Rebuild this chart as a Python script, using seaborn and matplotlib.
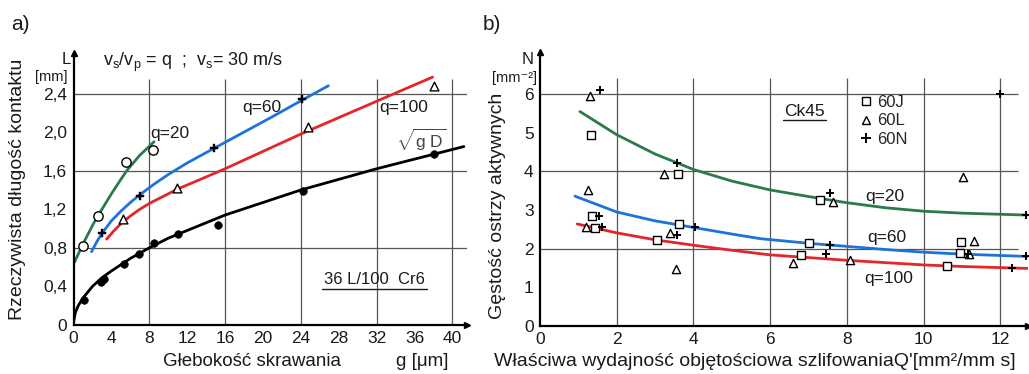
import numpy as np
import pandas as pd
import matplotlib
matplotlib.use("Agg")
import matplotlib.pyplot as plt
from matplotlib.lines import Line2D
import seaborn as sns

# ---------------- Panel a data ----------------
a_xticks = [0, 4, 8, 12, 16, 20, 24, 28, 32, 36, 40]
a_yticks = [0, 0.4, 0.8, 1.2, 1.6, 2.0, 2.4]
a_yticklabels = ["0", "0,4", "0,8", "1,2", "1,6", "2,0", "2,4"]
a_xgrid = [8, 16, 24, 32, 40]
a_ygrid = [0.8, 1.6, 2.4]

# fitted curves
q20_a_x = [0.1, 1.0, 2.1, 3.0, 4.0, 5.0, 5.7, 7.0, 8.5]
q20_a_y = [0.65, 0.84, 1.05, 1.20, 1.36, 1.51, 1.61, 1.76, 1.90]
q60_a_x = [1.9, 2.5, 3.0, 4.0, 5.0, 6.0, 7.0, 8.5, 10.0, 12.0, 14.8, 18.0, 21.0, 24.1, 26.9]
q60_a_y = [0.76, 0.87, 0.95, 1.08, 1.18, 1.27, 1.35, 1.46, 1.56, 1.68, 1.83, 2.00, 2.16, 2.33, 2.48]
q100_a_x = [3.5, 4.2, 5.0, 6.0, 7.0, 8.0, 9.2, 11.0, 13.4, 16.0, 20.0, 24.0, 28.0, 32.0, 36.0, 37.9]
q100_a_y = [0.89, 0.97, 1.05, 1.13, 1.20, 1.26, 1.32, 1.41, 1.51, 1.62, 1.80, 1.98, 2.15, 2.32, 2.49, 2.57]
sq_a_x = [0.02, 0.2, 0.5, 1.0, 2.0, 3.0, 4.0, 6.0, 8.0, 10.0, 12.0, 16.0, 20.0, 24.0, 28.0, 32.0, 36.0, 41.2]
sq_a_y = [0.04, 0.13, 0.20, 0.28, 0.40, 0.49, 0.56, 0.69, 0.80, 0.90, 0.98, 1.14, 1.27, 1.40, 1.51, 1.62, 1.72, 1.85]

# measured points
q20_pts_x = [1.0, 2.6, 5.5, 8.4]
q20_pts_y = [0.82, 1.13, 1.69, 1.81]
q60_pts_x = [3.0, 7.0, 14.8, 24.1]
q60_pts_y = [0.95, 1.34, 1.83, 2.34]
q100_pts_x = [5.2, 10.9, 24.7, 38.0]
q100_pts_y = [1.10, 1.42, 2.05, 2.48]
sq_pts_x = [1.16, 2.85, 3.2, 5.3, 6.9, 8.5, 11.0, 15.2, 24.2, 38.0]
sq_pts_y = [0.26, 0.45, 0.48, 0.63, 0.74, 0.85, 0.94, 1.04, 1.39, 1.77]

# ---------------- Panel b data ----------------
b_xticks = [0, 2, 4, 6, 8, 10, 12]
b_yticks = [0, 1, 2, 3, 4, 5, 6]
b_xgrid = [2, 4, 6, 8, 10, 12]
b_ygrid = [2, 4, 6]

q20_b_x = [1.04, 2.0, 3.0, 3.6, 4.0, 5.0, 6.0, 7.0, 7.56, 8.0, 9.0, 10.0, 11.0, 12.7]
q20_b_y = [5.55, 4.95, 4.45, 4.21, 4.05, 3.75, 3.52, 3.35, 3.26, 3.19, 3.06, 2.97, 2.92, 2.87]
q60_b_x = [0.91, 2.0, 3.0, 4.0, 5.0, 5.74, 7.0, 8.0, 9.0, 10.0, 11.0, 12.7]
q60_b_y = [3.36, 2.95, 2.72, 2.55, 2.38, 2.26, 2.14, 2.06, 1.98, 1.91, 1.86, 1.80]
q100_b_x = [0.97, 2.0, 3.0, 4.0, 5.0, 6.0, 7.0, 8.0, 9.0, 10.0, 11.0, 12.7]
q100_b_y = [2.64, 2.41, 2.23, 2.09, 1.96, 1.84, 1.77, 1.70, 1.64, 1.58, 1.54, 1.49]

j60_x = [1.34, 3.59, 1.35, 1.43, 3.06, 3.63, 7.3, 7.0, 6.8, 10.6, 10.97, 10.95]
j60_y = [4.94, 3.93, 2.84, 2.54, 2.22, 2.63, 3.26, 2.14, 1.84, 1.55, 2.18, 1.88]
l60_x = [1.30, 3.23, 1.26, 11.03, 1.20, 3.39, 3.55, 7.65, 6.59, 8.08, 11.3, 11.17]
l60_y = [5.95, 3.93, 3.53, 3.86, 2.57, 2.41, 1.47, 3.22, 1.62, 1.71, 2.20, 1.86]
n60_x = [1.56, 3.56, 11.99, 1.55, 1.61, 3.58, 4.04, 7.56, 7.56, 7.46, 12.3, 12.67, 12.67, 11.16]
n60_y = [6.10, 4.22, 6.00, 2.84, 2.57, 2.35, 2.55, 3.43, 2.09, 1.86, 1.49, 2.87, 1.81, 1.86]

GREEN = "#2b7a4b"
BLUE = "#1e73d8"
RED = "#e3262b"
GRID = "#555555"
TXT = "#1a1a1a"

sns.set_style("white")
plt.rcParams["font.family"] = ["Liberation Sans", "DejaVu Sans"]
plt.rcParams["mathtext.fontset"] = "custom"
plt.rcParams["mathtext.rm"] = "Liberation Sans"
plt.rcParams["mathtext.it"] = "Liberation Sans"
plt.rcParams["mathtext.bf"] = "Liberation Sans:bold"

W, H = 1029, 374
fig = plt.figure(figsize=(W / 100, H / 100), dpi=100)


def fx(px):
    return px / W


def fy(py):
    return 1 - py / H


def style_axes(ax, xlim, ylim):
    ax.set_xlim(*xlim)
    ax.set_ylim(*ylim)
    for s in ["top", "right"]:
        ax.spines[s].set_visible(False)
    for s in ["left", "bottom"]:
        ax.spines[s].set_color("black")
        ax.spines[s].set_linewidth(1.6)
    ax.tick_params(axis="both", direction="inout", length=5, width=0.8,
                   labelsize=12.5, colors=TXT, pad=2)
    ax.patch.set_alpha(0)
    # arrow heads
    ax.plot(1, 0, ">", color="black", ms=5, transform=ax.transAxes, clip_on=False)
    ax.plot(0, 1, "^", color="black", ms=5, transform=ax.transAxes, clip_on=False)


def curve(ax, x, y, color):
    df = pd.DataFrame({"x": x, "y": y})
    sns.lineplot(data=df, x="x", y="y", color=color, lw=2.0, ax=ax,
                 sort=False, estimator=None)


# ================= Panel a =================
axa = fig.add_axes([fx(73.5), fy(325), fx(466.7 - 73.5), (325 - 53) / H])
style_axes(axa, (0, 41.5), (0, 2.82))
axa.vlines(a_xgrid, 0, 2.55, color=GRID, lw=0.9, zorder=0)
axa.hlines(a_ygrid, 0, 41.5, color=GRID, lw=0.9, zorder=0)

curve(axa, sq_a_x, sq_a_y, "black")
curve(axa, q20_a_x, q20_a_y, GREEN)
curve(axa, q60_a_x, q60_a_y, BLUE)
curve(axa, q100_a_x, q100_a_y, RED)

sns.scatterplot(x=sq_pts_x, y=sq_pts_y, ax=axa, marker="o", s=30,
                color="black", edgecolor="black", zorder=5)
sns.scatterplot(x=q20_pts_x, y=q20_pts_y, ax=axa, marker="o", s=45,
                facecolor="white", edgecolor="black", linewidth=1.0, zorder=5)
sns.scatterplot(x=q60_pts_x, y=q60_pts_y, ax=axa, marker="P", s=30,
                color="black", edgecolor="black", linewidth=0.3, zorder=5)
sns.scatterplot(x=q100_pts_x, y=q100_pts_y, ax=axa, marker="^", s=40,
                facecolor="white", edgecolor="black", linewidth=1.0, zorder=5)

axa.set_xticks(a_xticks)
axa.set_xticklabels([str(v) for v in a_xticks])
axa.set_yticks(a_yticks)
axa.set_yticklabels(a_yticklabels)
axa.set_xlabel("")
axa.set_ylabel("")

fig.text(fx(20), fy(25), "a)", fontsize=15, color=TXT, ha="center", va="center")
fig.text(fx(66), fy(60), "L", fontsize=12, color=TXT, ha="center", va="center")
fig.text(fx(51), fy(77), "[mm]", fontsize=10.5, color=TXT, ha="center", va="center")
fig.text(fx(103), fy(62), r"v$_\mathregular{s}$/v$_\mathregular{p}$ = q  ;  v$_\mathregular{s}$= 30 m/s",
         fontsize=13, color=TXT, ha="left", va="center")
fig.text(fx(18), fy(189), "Rzeczywista długość kontaktu", fontsize=14, color=TXT,
         rotation=90, ha="center", va="center")
fig.text(fx(252), fy(362), "Głebokość skrawania", fontsize=13.5, color=TXT,
         ha="center", va="center")
fig.text(fx(422), fy(362), "g [μm]", fontsize=13.5, color=TXT, ha="center", va="center")
axa.text(10.2, 1.99, "q=20", fontsize=12.5, color=TXT, ha="center", va="center")
axa.text(19.9, 2.26, "q=60", fontsize=12.5, color=TXT, ha="center", va="center")
axa.text(34.9, 2.25, "q=100", fontsize=12.5, color=TXT, ha="center", va="center")
axa.text(36.7, 1.92, r"$\sqrt{g\ D}$", fontsize=12.5, color="#444444", ha="center", va="center")
fig.text(fx(374), fy(280), "36 L/100  Cr6", fontsize=12, color=TXT, ha="center", va="center")
fig.add_artist(Line2D([fx(322), fx(427)], [fy(289), fy(289)], color=TXT, lw=1.0))

# ================= Panel b =================
axb = fig.add_axes([fx(540), fy(326), fx(1028 - 540), (326 - 52) / H])
style_axes(axb, (0, 12.72), (0, 7.09))
axb.vlines(b_xgrid, 0, 6.41, color=GRID, lw=0.9, zorder=0)
axb.hlines(b_ygrid, 0, 12.45, color=GRID, lw=0.9, zorder=0)

curve(axb, q20_b_x, q20_b_y, GREEN)
curve(axb, q60_b_x, q60_b_y, BLUE)
curve(axb, q100_b_x, q100_b_y, RED)

sns.scatterplot(x=j60_x, y=j60_y, ax=axb, marker="s", s=30,
                facecolor="white", edgecolor="black", linewidth=1.0, zorder=5)
sns.scatterplot(x=l60_x, y=l60_y, ax=axb, marker="^", s=35,
                facecolor="white", edgecolor="black", linewidth=1.0, zorder=5)
sns.scatterplot(x=n60_x, y=n60_y, ax=axb, marker="+", s=40,
                color="black", linewidth=1.4, zorder=5)

axb.set_xticks(b_xticks)
axb.set_xticklabels([str(v) for v in b_xticks])
axb.set_yticks(b_yticks)
axb.set_yticklabels([str(v) for v in b_yticks])
axb.set_xlabel("")
axb.set_ylabel("")

handles = [
    Line2D([], [], ls="none", marker="s", ms=5.5, mfc="white", mec="black", mew=1.0),
    Line2D([], [], ls="none", marker="^", ms=6, mfc="white", mec="black", mew=1.0),
    Line2D([], [], ls="none", marker="+", ms=6.5, color="black", mew=1.4),
]
fig.legend(handles, ["60J", "60L", "60N"], loc="upper left",
           bbox_to_anchor=(fx(859), fy(95)), bbox_transform=fig.transFigure,
           frameon=False, fontsize=12, handlelength=0.8, handletextpad=0.3,
           labelspacing=0.2, borderpad=0, borderaxespad=0)

fig.text(fx(492), fy(25), "b)", fontsize=15, color=TXT, ha="center", va="center")
fig.text(fx(528), fy(60), "N", fontsize=12, color=TXT, ha="center", va="center")
fig.text(fx(537), fy(78), "[mm⁻²]", fontsize=10.5, color=TXT, ha="right", va="center")
fig.text(fx(497), fy(206), "Gęstość ostrzy aktywnych", fontsize=14, color=TXT,
         rotation=90, ha="center", va="center")
fig.text(fx(755), fy(362), "Właściwa wydajność objętościowa szlifowaniaQ'[mm²/mm s]",
         fontsize=14, color=TXT, ha="center", va="center")
axb.text(9.0, 3.34, "q=20", fontsize=12.5, color=TXT, ha="center", va="center")
axb.text(9.05, 2.28, "q=60", fontsize=12.5, color=TXT, ha="center", va="center")
axb.text(9.1, 1.22, "q=100", fontsize=12.5, color=TXT, ha="center", va="center")
fig.text(fx(804), fy(112), "Ck45", fontsize=12.5, color=TXT, ha="center", va="center")
fig.add_artist(Line2D([fx(783), fx(826)], [fy(120), fy(120)], color=TXT, lw=1.0))

fig.savefig("out.png", dpi=100)
